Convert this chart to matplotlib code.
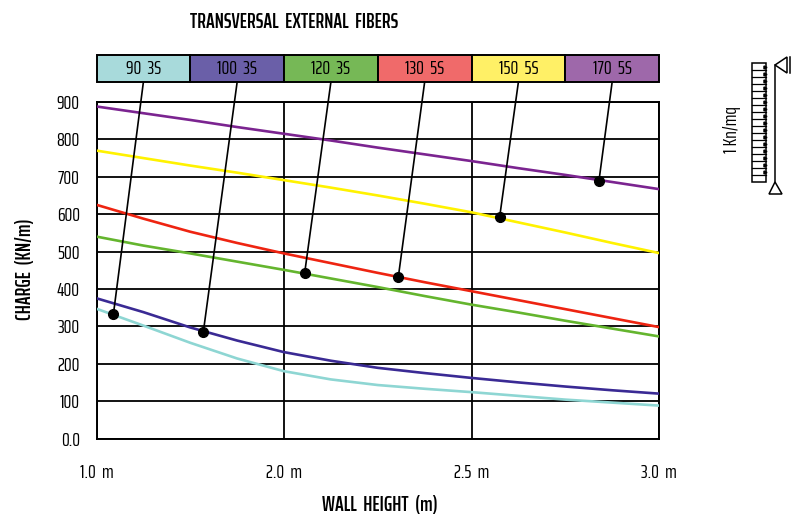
import matplotlib.pyplot as plt
from matplotlib.patches import Polygon, Rectangle

plt.rcParams["font.family"] = ["Saira ExtraCondensed", "Sofia Sans Extra Condensed", "Liberation Sans", "DejaVu Sans"]

# x axis has uneven labels but even spacing, so positions are just 0..3
x_pos = [0, 0.25, 0.5, 0.75, 1, 1.25, 1.5, 1.75, 2, 2.25, 2.5, 2.75, 3]
x_ticks = [0, 1, 2, 3]
x_labels = ["1.0  m", "2.0  m", "2.5  m", "3.0  m"]
y_ticks = [0, 100, 200, 300, 400, 500, 600, 700, 800, 900]
y_labels = ["0.0", "100", "200", "300", "400", "500", "600", "700", "800", "900"]

names = ["90  3S", "100  3S", "120  3S", "130  5S", "150  5S", "170  5S"]
box_colors = ["#a8dadb", "#6a5fa8", "#76b856", "#f06a6a", "#fff066", "#9e68aa"]
line_colors = ["#8ed6d3", "#3a2a94", "#64b52e", "#ee2411", "#fff200", "#7b2490"]

s_90 = [347, 302, 256, 214, 180, 158, 143, 133, 124, 114, 104, 96, 88]
s_100 = [375, 338, 297, 262, 231, 208, 189, 175, 162, 150, 139, 129, 120]
s_120 = [540, 516, 495, 473, 451, 428, 405, 381, 358, 337, 315, 294, 273]
s_130 = [625, 588, 553, 523, 495, 469, 443, 418, 394, 370, 346, 322, 298]
s_150 = [770, 750, 730, 711, 691, 671, 650, 628, 605, 578, 551, 523, 496]
s_170 = [888, 870, 852, 833, 815, 797, 778, 760, 742, 723, 705, 686, 667]
series = [s_90, s_100, s_120, s_130, s_150, s_170]

# dots on the curves and where their leaders reach the legend strip
dot_x = [0.09, 0.57, 1.11, 1.61, 2.15, 2.68]
dot_y = [332, 286, 442, 433, 592, 690]
box_x = [0.25, 0.75, 1.25, 1.75, 2.25, 2.75]

fig = plt.figure(figsize=(7.92, 5.16), dpi=100)
ax = fig.add_axes([96.5 / 792, 1 - 438.5 / 516, 562.5 / 792, 336.5 / 516])

ax.set_xlim(0, 3)
ax.set_ylim(0, 900)
ax.set_xticks(x_ticks)
ax.set_xticklabels(x_labels)
ax.set_yticks(y_ticks)
ax.set_yticklabels(y_labels)
ax.tick_params(length=0, labelsize=14)
ax.tick_params(axis="x", pad=18)
ax.tick_params(axis="y", pad=12)
ax.grid(True, color="black", linewidth=1.3)
ax.set_axisbelow(True)
for spine in ax.spines.values():
    spine.set_linewidth(1.4)

for vals, col in zip(series, line_colors):
    ax.plot(x_pos, vals, color=col, linewidth=1.9, zorder=3)

# legend strip sits above the axes, in data units
strip_bottom = 953
strip_height = 72
for x, name, col in zip(box_x, names, box_colors):
    ax.bar(x, strip_height, width=0.5, bottom=strip_bottom, color=col, edgecolor="black",
           linewidth=1.4, clip_on=False, zorder=4)
    ax.text(x, strip_bottom + strip_height / 2, name, ha="center", va="center", fontsize=14, zorder=5)

for bx, dx, dy in zip(box_x, dot_x, dot_y):
    ax.plot([bx, dx], [strip_bottom, dy], color="black", linewidth=1.2, clip_on=False, zorder=4)
ax.plot(dot_x, dot_y, "o", color="black", markersize=7, linestyle="none", zorder=5)

fig.text(294 / 792, 1 - 22 / 516, "TRANSVERSAL  EXTERNAL  FIBERS", ha="center", va="center",
         fontsize=15, fontweight="semibold")
fig.text(380 / 792, 1 - 505 / 516, "WALL  HEIGHT  (m)", ha="center", va="center", fontsize=15, fontweight="semibold")
fig.text(25 / 792, 1 - 269 / 516, "CHARGE  (KN/m)", ha="center", va="center", rotation=90,
         fontsize=15, fontweight="semibold")
fig.text(732 / 792, 1 - 130 / 516, "1 Kn/mq", ha="center", va="center", rotation=90, fontsize=14)

# small load diagram on the right, drawn in pixel coordinates
icon = fig.add_axes([0, 0, 1, 1], facecolor="none")
icon.set_xlim(0, 792)
icon.set_ylim(516, 0)
icon.axis("off")
icon.add_patch(Rectangle((752, 63), 14, 119, fill=False, edgecolor="black", linewidth=1.1))
for y in range(70, 182, 7):
    icon.plot([752, 766], [y, y], color="black", linewidth=0.9)
    icon.plot([764.5], [y - 3.5], marker=">", markersize=2.2, color="black")
icon.plot([775, 775], [65, 182], color="black", linewidth=1.1)
icon.add_patch(Polygon([(775, 182), (769, 194), (782, 194)], fill=False, edgecolor="black", linewidth=1.1))
icon.add_patch(Polygon([(775, 65), (787, 57), (787, 73)], fill=False, edgecolor="black", linewidth=1.1))
icon.plot([790, 790], [57, 73], color="black", linewidth=1.1)

fig.savefig("out.png", dpi=100)
